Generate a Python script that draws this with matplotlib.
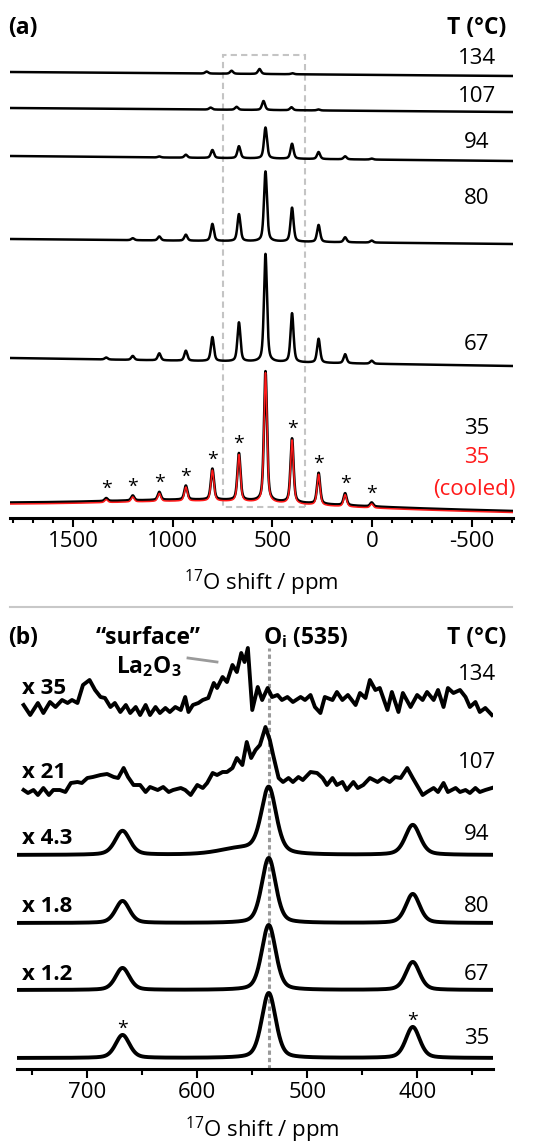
import numpy as np
import matplotlib
matplotlib.use("Agg")
import matplotlib.pyplot as plt
from matplotlib.patches import Rectangle
from matplotlib.lines import Line2D

plt.rcParams['font.family'] = ['Open Sans', 'DejaVu Sans']
plt.rcParams['mathtext.default'] = 'regular'

W, H = 541, 1145

# ---------------- data ----------------
# panel (a): spinning sideband manifold, shifts in ppm, heights
temps_a = ['134', '107', '94', '80', '67', '35']
sb_shift = [1333, 1200, 1067, 934, 801, 668, 535, 402, 269, 136, 3]
h_35 = [3, 5, 8, 14, 31, 47, 130, 64, 31, 12, 4]
h_cooled = [3, 5, 8, 14, 31, 47, 130, 64, 31, 12, 4]
h_67 = [2, 4, 7, 10, 24, 39, 108, 49, 24, 9, 3]
h_80 = [0, 2, 4, 6, 17, 27, 70, 34, 17, 5, 2]
h_94 = [0, 0, 1, 3, 8, 12, 31, 15, 7, 3, 1]
shift_107 = [810, 680, 545, 405, 270]
h_107 = [2, 3, 9, 3, 1]
shift_134 = [830, 705, 565, 400]
h_134 = [2, 3, 5, 1]
drift_a = [4, 4, 5, 5, 8, 7]          # baseline drop from left to right
star_shift = [1333, 1200, 1067, 934, 801, 668, 402, 269, 136, 3]

# panel (b): zoom on the centre band
temps_b = ['134', '107', '94', '80', '67', '35']
scale_b = ['x 35', 'x 21', 'x 4.3', 'x 1.8', 'x 1.2']
cb_shift = [668, 535, 404]
h_94b = [24, 66, 30]
h_80b = [22, 65, 29]
h_67b = [22, 65, 28]
h_35b = [23, 65, 31]

# noisy high-temperature traces, (ppm, intensity) read point by point
ppm_134 = [758, 752, 745, 740, 734, 729, 723, 718, 714, 709, 704, 698, 693, 688,
           684, 679, 675, 670, 665, 661, 656, 652, 647, 643, 638, 634, 629, 625,
           620, 615, 611, 608, 604, 599, 595, 590, 585, 582, 577, 573, 568, 564,
           560, 557, 554, 550, 545, 541, 536, 532, 527, 523, 518, 513, 506, 502,
           497, 493, 488, 484, 477, 473, 468, 463, 456, 452, 447, 443, 438, 434,
           427, 423, 417, 413, 406, 400, 395, 391, 385, 381, 376, 372, 367, 361,
           356, 352, 347, 343, 338, 332]
int_134 = [5, -5, 7, -3, 8, 3, 10, 7, 10, 7, 25, 30, 20, 13,
           12, 3, 7, -2, 5, -3, 3, -5, 5, -5, 3, -3, 2, -2,
           3, 0, 13, -2, 5, 7, 10, 12, 27, 22, 33, 28, 45, 38,
           57, 48, 62, 0, 23, 10, 22, 13, 15, 10, 13, 8, 13, 10,
           15, 3, -3, 13, 10, 18, 10, 15, 5, 17, 12, 30, 20, 22,
           0, 18, -2, 17, 3, 15, 10, 18, 10, 20, 3, 22, 17, 20,
           13, 3, 8, -2, 2, -5]
ppm_107 = [758, 754, 749, 745, 740, 735, 731, 725, 720, 715, 709, 705, 700, 695,
           688, 682, 676, 672, 667, 663, 658, 652, 647, 643, 636, 631, 626, 622,
           615, 611, 606, 600, 595, 591, 586, 582, 577, 573, 568, 564, 559, 555,
           551, 547, 543, 538, 534, 531, 526, 522, 517, 513, 508, 504, 497, 491,
           486, 482, 477, 473, 468, 464, 458, 454, 449, 443, 436, 431, 425, 420,
           415, 409, 404, 395, 391, 385, 381, 376, 372, 365, 361, 356, 352, 347,
           343, 338, 332]
int_107 = [2, -1, 2, -3, 4, -3, 2, 2, 0, 9, 10, 9, 14, 15,
           17, 18, 15, 14, 24, 15, 7, 7, 0, 5, 2, 5, 0, 2,
           4, 2, -3, 7, 4, 9, 19, 17, 20, 20, 24, 34, 27, 50,
           34, 42, 47, 65, 52, 37, 14, 10, 14, 10, 15, 12, 20, 19,
           14, 7, 14, 7, 10, 2, 10, 4, 7, 14, 10, 14, 10, 15,
           14, 24, 14, -3, 0, 4, 0, 9, 0, 4, 0, 2, -1, 4,
           0, 2, 4]


def px_x(px):
    return px / W


def px_y(py):
    return 1 - py / H


def lines_sum(x, shifts, heights, fwhm, eta):
    out = np.zeros_like(x)
    for s, h in zip(shifts, heights):
        d = (x - s) / (fwhm / 2.0)
        out += h * (eta / (1 + d ** 2) + (1 - eta) * np.exp(-np.log(2) * d ** 2))
    return out


fig = plt.figure(figsize=(W / 100, H / 100), dpi=100)

# ---------------- panel (a) ----------------
ax_a = fig.add_axes([px_x(10), px_y(518), (513 - 10) / W, (518 - 40) / H])
xa_lo, xa_hi = -705, 1815
ax_a.set_xlim(xa_hi, xa_lo)
ax_a.set_ylim(0, 478)
xa = np.linspace(xa_hi, xa_lo, 4000)
ramp = (xa_hi - xa) / (xa_hi - xa_lo)

offsets_a = [446, 410, 362, 279, 160, 12]
peaks_a = [(shift_134, h_134), (shift_107, h_107), (sb_shift, h_94),
           (sb_shift, h_80), (sb_shift, h_67), (sb_shift, h_35)]
for i, (sh, hh) in enumerate(peaks_a):
    y = offsets_a[i] - drift_a[i] * ramp + lines_sum(xa, sh, hh, 18, 0.5)
    if temps_a[i] == '35':
        hump = lines_sum(xa, [800], [9], 1600, 1.0)
        y = y + hump
        yc = offsets_a[i] - 1.5 - drift_a[i] * ramp + hump + lines_sum(xa, sb_shift, h_cooled, 18, 0.5)
        ax_a.plot(xa, y, color='black', lw=1.9, zorder=3)
        ax_a.plot(xa, yc, color='#ff1a1a', lw=1.1, zorder=4)
    else:
        ax_a.plot(xa, y, color='black', lw=1.8, zorder=3)

# asterisks on the sidebands of the 35 C trace
y35_star = offsets_a[5] - drift_a[5] * (xa_hi - np.array(star_shift)) / (xa_hi - xa_lo) \
    + lines_sum(np.array(star_shift, float), sb_shift, h_35, 18, 0.5) \
    + lines_sum(np.array(star_shift, float), [800], [9], 1600, 1.0)
for s, yy in zip(star_shift, y35_star):
    ax_a.text(s, yy + 9, '*', ha='center', va='center', fontsize=14, color='black')

# dashed box marking the zoomed region
ax_a.add_patch(Rectangle((335, 11), 415, 452, fill=False, edgecolor='#c4c4c4',
                         lw=1.5, linestyle=(0, (3, 2)), zorder=1))

for sp in ['top', 'left', 'right']:
    ax_a.spines[sp].set_visible(False)
ax_a.spines['bottom'].set_linewidth(2.2)
ax_a.set_yticks([])
ax_a.set_xticks([1500, 1000, 500, 0, -500])
ax_a.set_xticks(np.arange(-700, 1801, 100), minor=True)
ax_a.set_xticklabels(['1500', '1000', '500', '0', '-500'])
ax_a.tick_params(axis='x', which='major', direction='out', length=6.5, width=1.5,
                 labelsize=16, pad=3)
ax_a.tick_params(axis='x', which='minor', direction='out', length=3.5, width=1.5)
ax_a.patch.set_alpha(0)

fig.text(px_x(8), px_y(28), '(a)', fontsize=16.5, fontweight='bold', ha='left', va='center')
fig.text(px_x(506), px_y(28), 'T (°C)', fontsize=16.5, fontweight='bold', ha='right', va='center')
lab_y_a = [58, 97, 143, 198, 345, 428]
for t, yy in zip(temps_a, lab_y_a):
    fig.text(px_x(477), px_y(yy), t, fontsize=16, ha='center', va='center')
fig.text(px_x(477), px_y(457), '35', fontsize=16, ha='center', va='center', color='#ff1a1a')
fig.text(px_x(474), px_y(490), '(cooled)', fontsize=16, ha='center', va='center', color='#ff1a1a')
fig.text(px_x(261), px_y(583), r'$^{17}$O shift / ppm', fontsize=16, ha='center', va='center')

# separator between the panels
fig.add_artist(Line2D([px_x(10), px_x(512)], [px_y(607), px_y(607)],
                      color='#c8c8c8', lw=1.5))

# ---------------- panel (b) ----------------
ax_b = fig.add_axes([px_x(17), px_y(1069), (493 - 17) / W, (1069 - 620) / H])
xb_lo, xb_hi = 331, 764
ax_b.set_xlim(xb_hi, xb_lo)
ax_b.set_ylim(0, 449)
xb = np.linspace(xb_hi, xb_lo, 2000)

offsets_b = [359, 277, 214, 146, 79, 11]
ax_b.plot(ppm_134, np.array(int_134) + offsets_b[0], color='black', lw=2.8,
          solid_joinstyle='round', zorder=3)
ax_b.plot(ppm_107, np.array(int_107) + offsets_b[1], color='black', lw=2.8,
          solid_joinstyle='round', zorder=3)
y94 = lines_sum(xb, cb_shift, h_94b, 16, 0.4) + lines_sum(xb, [562], [6], 45, 0.5)
ax_b.plot(xb, y94 + offsets_b[2], color='black', lw=2.8, zorder=3)
for k, hh in zip([3, 4, 5], [h_80b, h_67b, h_35b]):
    yk = lines_sum(xb, cb_shift, hh, 15, 0.35)
    ax_b.plot(xb, yk + offsets_b[k], color='black', lw=2.8, zorder=3)

# asterisks on the sidebands of the 35 C trace
for s in [668, 404]:
    top = offsets_b[5] + lines_sum(np.array([s], float), cb_shift, h_35b, 15, 0.35)[0]
    ax_b.text(s, top + 6, '*', ha='center', va='center', fontsize=14)

# O_i position
ax_b.plot([535, 535], [0, 421], color='#9a9a9a', lw=2.2, linestyle=(0, (1.4, 1.0)),
          zorder=2, clip_on=False)

for sp in ['top', 'left', 'right']:
    ax_b.spines[sp].set_visible(False)
ax_b.spines['bottom'].set_linewidth(2.2)
ax_b.set_yticks([])
ax_b.set_xticks([700, 600, 500, 400])
ax_b.set_xticks([750, 650, 550, 450, 350], minor=True)
ax_b.tick_params(axis='x', which='major', direction='out', length=6.5, width=1.5,
                 labelsize=16, pad=3)
ax_b.tick_params(axis='x', which='minor', direction='out', length=4, width=1.5)
ax_b.patch.set_alpha(0)

fig.text(px_x(8), px_y(638), '(b)', fontsize=16.5, fontweight='bold', ha='left', va='center')
fig.text(px_x(148), px_y(638), '\u201csurface\u201d', fontsize=16.5, fontweight='bold',
         ha='center', va='center')
fig.text(px_x(149), px_y(667), r'La$_2$O$_3$', fontsize=16.5, fontweight='bold',
         ha='center', va='center')
fig.add_artist(Line2D([px_x(188), px_x(217)], [px_y(658), px_y(662)],
                      color='#9a9a9a', lw=2.0))
fig.text(px_x(263), px_y(638), r'O$_i$ (535)', fontsize=16.5, fontweight='bold',
         ha='left', va='center')
fig.text(px_x(506), px_y(638), 'T (°C)', fontsize=16.5, fontweight='bold', ha='right', va='center')

lab_y_b = [675, 763, 835, 906, 975, 1038]
for t, yy in zip(temps_b, lab_y_b):
    fig.text(px_x(477), px_y(yy), t, fontsize=16, ha='center', va='center')
sc_y_b = [688, 773, 838, 907, 975]
for s, yy in zip(scale_b, sc_y_b):
    fig.text(px_x(22), px_y(yy), s, fontsize=16, fontweight='bold', ha='left', va='center')
fig.text(px_x(262), px_y(1130), r'$^{17}$O shift / ppm', fontsize=16, ha='center', va='center')

fig.savefig('out.png', dpi=100)
